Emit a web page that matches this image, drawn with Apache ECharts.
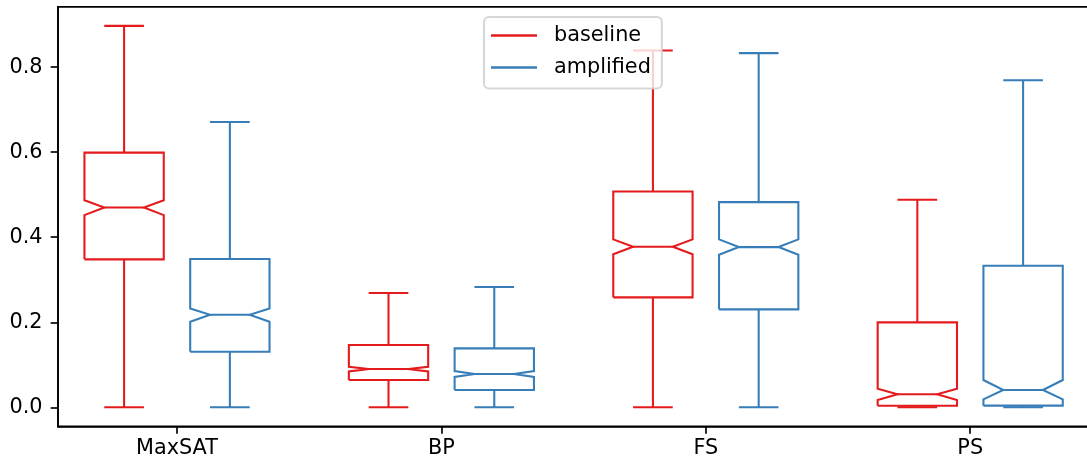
<!DOCTYPE html>
<html>
<head>
<meta charset="utf-8">
<script src="https://cdn.jsdelivr.net/npm/echarts@6/dist/echarts.min.js"></script>
<style>
html,body{margin:0;padding:0;background:#fff;}
#chart{width:1087px;height:464px;}
</style>
</head>
<body>
<div id="chart"></div>
<script>
// ---- data ----
const categories = ['MaxSAT', 'BP', 'FS', 'PS'];
const yTicks = [0, 0.2, 0.4, 0.6, 0.8];

const baselineWhiskerLow  = [0, 0, 0, 0];
const baselineQ1          = [0.348, 0.0642, 0.2586, 0.0038];
const baselineNotchLow    = [0.452, 0.0845, 0.360, 0.0172];
const baselineMedian      = [0.470, 0.090, 0.3775, 0.0306];
const baselineNotchHigh   = [0.487, 0.0955, 0.395, 0.0437];
const baselineQ3          = [0.599, 0.1465, 0.5077, 0.1998];
const baselineWhiskerHigh = [0.897, 0.2687, 0.839, 0.488];

const amplifiedWhiskerLow  = [0, 0, 0, 0];
const amplifiedQ1          = [0.1307, 0.0407, 0.2304, 0.0040];
const amplifiedNotchLow    = [0.2012, 0.0713, 0.3588, 0.0188];
const amplifiedMedian      = [0.2177, 0.0783, 0.3768, 0.0407];
const amplifiedNotchHigh   = [0.2327, 0.0853, 0.395, 0.0642];
const amplifiedQ3          = [0.3486, 0.1387, 0.4826, 0.333];
const amplifiedWhiskerHigh = [0.671, 0.2828, 0.833, 0.769];

// ---- styling / layout ----
const FONT = 'DejaVu Sans';
const FS = 20.8;
const RED = '#e41a1c';
const BLUE = '#377eb8';
const BOX_W = 0.3;
const OFFSET = 0.2;
const LW = 2.08;

function buildData(offset, wl, q1, nl, med, nh, q3, wh) {
  return categories.map((c, i) => [i + 1 + offset, wl[i], q1[i], nl[i], med[i], nh[i], q3[i], wh[i]]);
}

function makeRender(color) {
  return function (params, api) {
    const x = api.value(0);
    const wl = api.value(1), q1 = api.value(2), nl = api.value(3), md = api.value(4),
          nh = api.value(5), q3 = api.value(6), wh = api.value(7);
    const L = x - BOX_W / 2, R = x + BOX_W / 2;
    const cl = x - BOX_W / 4, cr = x + BOX_W / 4;
    const P = (a, b) => api.coord([a, b]);
    const box = [
      P(L, q1), P(R, q1), P(R, nl), P(cr, md), P(R, nh), P(R, q3),
      P(L, q3), P(L, nh), P(cl, md), P(L, nl), P(L, q1)
    ];
    const st = { stroke: color, lineWidth: LW, fill: null, lineJoin: 'miter' };
    const seg = (a, b) => ({ type: 'polyline', shape: { points: [a, b] }, style: st });
    return {
      type: 'group',
      children: [
        seg(P(x, q1), P(x, wl)),
        seg(P(x, q3), P(x, wh)),
        seg(P(cl, wl), P(cr, wl)),
        seg(P(cl, wh), P(cr, wh)),
        { type: 'polyline', shape: { points: box }, style: st },
        seg(P(cl, md), P(cr, md))
      ]
    };
  };
}

const chart = echarts.init(document.getElementById('chart'), null, { renderer: 'canvas' });
chart.setOption({
  animation: false,
  backgroundColor: '#fff',
  textStyle: { fontFamily: FONT },
  grid: {
    left: 58, right: -2.2, top: 6.8, bottom: 37.6,
    outerBoundsMode: 'none', containLabel: false,
    show: true, borderColor: '#000', borderWidth: 1.67, backgroundColor: 'transparent'
  },
  legend: {
    data: ['baseline', 'amplified'],
    orient: 'vertical',
    left: 484, top: 17,
    icon: 'rect',
    itemWidth: 46, itemHeight: 2.5,
    itemGap: 8,
    padding: [6.4, 11, 9, 7],
    backgroundColor: 'rgba(255,255,255,0.8)',
    borderColor: 'rgba(204,204,204,0.8)',
    borderWidth: 2,
    borderRadius: 5,
    textStyle: { fontFamily: FONT, fontSize: FS, color: '#000', lineHeight: 24, padding: [0, 0, 0, 12] }
  },
  xAxis: {
    type: 'value', min: 0.55, max: 4.45,
    axisLine: { show: true, onZero: false, lineStyle: { color: '#000', width: 1.67 } },
    axisTick: { show: true, customValues: [1, 2, 3, 4], length: 7.3, lineStyle: { color: '#000', width: 1.67 } },
    axisLabel: {
      customValues: [1, 2, 3, 4],
      formatter: v => categories[Math.round(v) - 1],
      fontFamily: FONT, fontSize: FS, color: '#000', margin: 12
    },
    splitLine: { show: false }
  },
  yAxis: {
    type: 'value', min: -0.04485, max: 0.94185,
    axisLine: { show: true, onZero: false, lineStyle: { color: '#000', width: 1.67 } },
    axisTick: { show: true, customValues: yTicks, length: 7.3, lineStyle: { color: '#000', width: 1.67 } },
    axisLabel: {
      customValues: yTicks,
      formatter: v => v.toFixed(1),
      fontFamily: FONT, fontSize: FS, color: '#000', margin: 15.5
    },
    splitLine: { show: false }
  },
  series: [
    {
      name: 'baseline', type: 'custom',
      itemStyle: { color: RED },
      renderItem: makeRender(RED),
      encode: { x: 0, y: [1, 2, 3, 4, 5, 6, 7] },
      data: buildData(-OFFSET, baselineWhiskerLow, baselineQ1, baselineNotchLow, baselineMedian,
                      baselineNotchHigh, baselineQ3, baselineWhiskerHigh),
      z: 2
    },
    {
      name: 'amplified', type: 'custom',
      itemStyle: { color: BLUE },
      renderItem: makeRender(BLUE),
      encode: { x: 0, y: [1, 2, 3, 4, 5, 6, 7] },
      data: buildData(OFFSET, amplifiedWhiskerLow, amplifiedQ1, amplifiedNotchLow, amplifiedMedian,
                      amplifiedNotchHigh, amplifiedQ3, amplifiedWhiskerHigh),
      z: 2
    }
  ]
});
</script>
</body>
</html>
